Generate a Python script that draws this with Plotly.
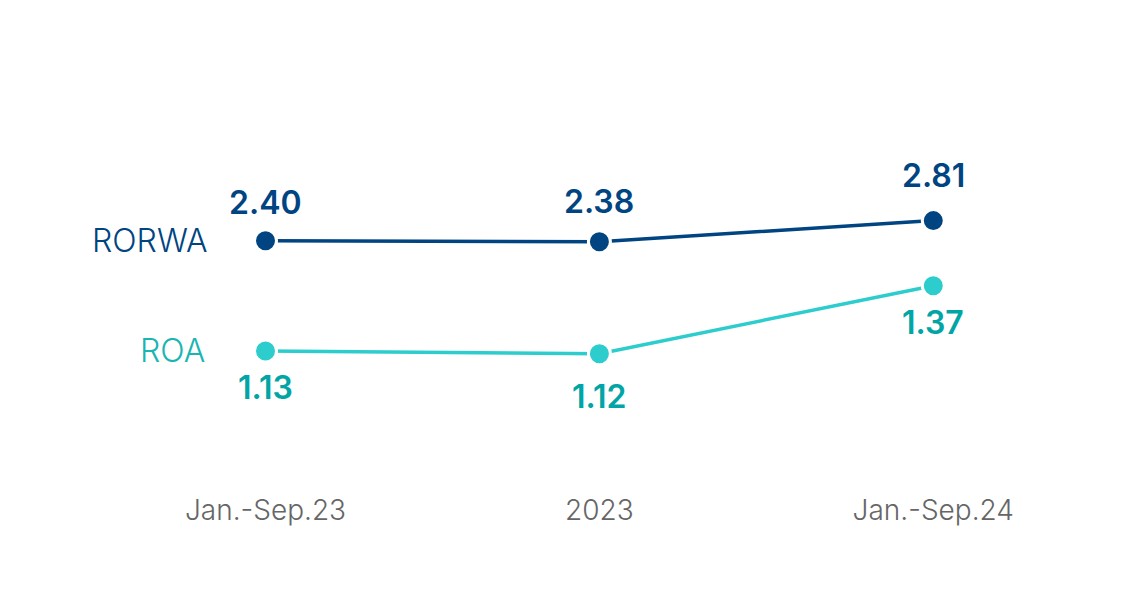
import plotly.graph_objects as go

categories = ["Jan.-Sep.23", "2023", "Jan.-Sep.24"]
rorwa = [2.40, 2.38, 2.81]
roa = [1.13, 1.12, 1.37]
rorwa_labels = ["2.40", "2.38", "2.81"]
roa_labels = ["1.13", "1.12", "1.37"]

NAVY = "#004481"
AQUA = "#2DCCCD"
AQUA_TEXT = "#02A5A5"
GREY = "#666666"
FONT = "Inter"

# label offsets (pixels) - styling only
rorwa_shift = [38, 40, 45]
roa_shift = [-37, -43, -37]

xpos = list(range(len(categories)))

fig = go.Figure()
fig.add_trace(go.Scatter(
    x=xpos, y=rorwa, mode="lines+markers", yaxis="y",
    line=dict(color=NAVY, width=3.5),
    marker=dict(size=22, color=NAVY, line=dict(color="white", width=3)),
    hoverinfo="skip", showlegend=False))
fig.add_trace(go.Scatter(
    x=xpos, y=roa, mode="lines+markers", yaxis="y2",
    line=dict(color=AQUA, width=3.5),
    marker=dict(size=22, color=AQUA, line=dict(color="white", width=3)),
    hoverinfo="skip", showlegend=False))

annotations = []
for i, (v, t) in enumerate(zip(rorwa, rorwa_labels)):
    annotations.append(dict(x=xpos[i], y=v, xref="x", yref="y", text=t,
                            showarrow=False, yshift=rorwa_shift[i],
                            font=dict(family=FONT, size=32, color=NAVY, weight=600)))
for i, (v, t) in enumerate(zip(roa, roa_labels)):
    annotations.append(dict(x=xpos[i], y=v, xref="x", yref="y2", text=t,
                            showarrow=False, yshift=roa_shift[i],
                            font=dict(family=FONT, size=32, color=AQUA_TEXT, weight=600)))
annotations.append(dict(x=xpos[0], y=rorwa[0], xref="x", yref="y", text="RORWA",
                        showarrow=False, xanchor="right", xshift=-56,
                        font=dict(family=FONT, size=32, color=NAVY, weight=300)))
annotations.append(dict(x=xpos[0], y=roa[0], xref="x", yref="y2", text="ROA",
                        showarrow=False, xanchor="right", xshift=-59,
                        font=dict(family=FONT, size=32, color="#18B5B2", weight=300)))

fig.update_layout(
    width=1146, height=594,
    margin=dict(l=0, r=0, t=52, b=111),
    paper_bgcolor="white", plot_bgcolor="white",
    xaxis=dict(range=[-0.7712, 2.661], tickmode="array", tickvals=xpos, ticktext=categories,
               showgrid=False, zeroline=False, showline=False, ticks="",
               tickfont=dict(family=FONT, size=28, color=GREY, weight=300)),
    yaxis=dict(range=[-2.708, 6.088], visible=False, showgrid=False, zeroline=False),
    yaxis2=dict(range=[0.6152, 2.1998], overlaying="y", visible=False,
                showgrid=False, zeroline=False),
    annotations=annotations,
)

fig.write_html("out.html")
